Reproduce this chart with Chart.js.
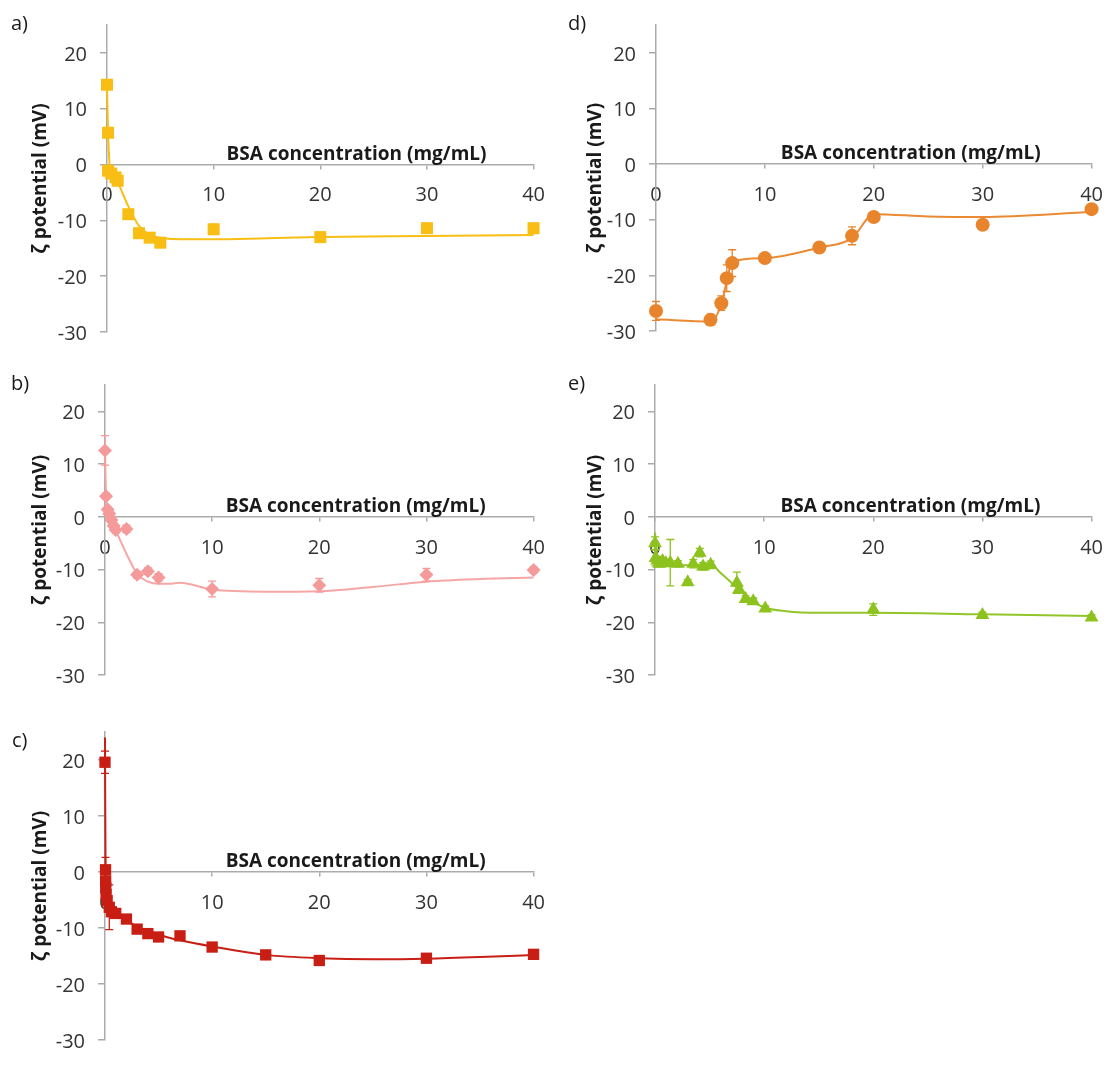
<!DOCTYPE html>
<html><head><meta charset="utf-8">
<script src="https://cdn.jsdelivr.net/npm/chart.js@4.4.0/dist/chart.umd.min.js"></script>
<style>
html,body{margin:0;padding:0;background:#fff;}
#wrap{position:relative;width:1118px;height:1065px;overflow:hidden;background:#fff;}
canvas{position:absolute;}
</style></head><body><div id="wrap">
<canvas id="ca" width="560" height="360" style="left:0;top:0"></canvas>
<canvas id="cd" width="558" height="360" style="left:560px;top:0"></canvas>
<canvas id="cb" width="560" height="340" style="left:0;top:360px"></canvas>
<canvas id="ce" width="558" height="340" style="left:560px;top:360px"></canvas>
<canvas id="cc" width="560" height="365" style="left:0;top:700px"></canvas>
</div>
<script>
// ---------- DATA ----------
const xTicks = [0, 10, 20, 30, 40];
const yTicks = [-30, -20, -10, 0, 10, 20];

// a) gold squares
const aConc = [0, 0.1, 0.1, 0.4, 0.8, 1.0, 2, 3, 4, 5, 10, 20, 30, 40];
const aZeta = [14.3, 5.7, -1.1, -1.6, -2.3, -2.9, -8.9, -12.3, -13.1, -14.0, -11.6, -13.0, -11.4, -11.4];
const aErr  = [0.5, 0.5, 0.4, 0.4, 0.5, 0.6, 0.8, 0.5, 0.5, 0.5, 0.9, 0.6, 0.8, 0.8];
const aFitConc = [0, 0.1, 0.3, 0.6, 1, 2, 3, 4, 5, 7, 10, 15, 20, 30, 40];
const aFitZeta = [14.3, 5.7, -0.8, -2.0, -3.2, -7.5, -11.0, -12.6, -13.1, -13.4, -13.4, -13.2, -13.0, -12.8, -12.6];

// b) pink diamonds
const bConc = [0, 0.1, 0.25, 0.4, 0.6, 0.8, 1.0, 2, 3, 4, 5, 10, 20, 30, 40];
const bZeta = [12.6, 3.9, 1.4, 0.6, -0.6, -1.7, -2.5, -2.3, -11.0, -10.3, -11.5, -13.7, -13.0, -11.0, -10.1];
const bErr  = [2.8, 0.6, 0.5, 0.5, 0.5, 0.6, 0.6, 0.7, 0.6, 0.6, 0.7, 1.5, 1.3, 1.2, 0.6];
const bFitConc = [0, 0.1, 0.3, 0.6, 1, 2, 3, 4, 5, 6, 7, 8, 10, 15, 20, 25, 30, 35, 40];
const bFitZeta = [12.6, 4.0, 0.8, -1.0, -2.6, -7.0, -10.8, -12.3, -12.7, -12.7, -12.5, -12.8, -13.8, -14.2, -14.1, -13.3, -12.3, -11.8, -11.5];

// c) red squares
const cConc = [0, 0.05, 0.06, 0.07, 0.1, 0.2, 0.4, 0.6, 1, 2, 3, 4, 5, 7, 10, 15, 20, 30, 40];
const cZeta = [19.6, 0.4, -1.6, -2.8, -4.0, -5.1, -6.3, -7.1, -7.4, -8.4, -10.2, -11.0, -11.6, -11.4, -13.4, -14.8, -15.8, -15.4, -14.7];
const cErr  = [2.0, 2.2, 0.6, 0.6, 0.6, 0.6, 4.0, 0.6, 0.5, 0.5, 0.5, 0.5, 0.5, 0.6, 0.6, 0.5, 0.5, 0.5, 0.5];
const cFitConc = [0, 0.05, 0.15, 0.3, 0.6, 1, 2, 3, 5, 7, 10, 15, 20, 25, 30, 35, 40];
const cFitZeta = [24.0, 0.5, -4.0, -5.8, -6.8, -7.4, -8.5, -9.8, -11.2, -12.2, -13.3, -14.8, -15.4, -15.6, -15.5, -15.2, -14.8];

// d) orange circles
const dConc = [0, 5, 6, 6.5, 7, 10, 15, 18, 20, 30, 40];
const dZeta = [-26.4, -28.0, -25.0, -20.5, -17.8, -16.9, -15.0, -12.9, -9.5, -10.9, -8.1];
const dErr  = [1.7, 1.0, 1.3, 2.4, 2.4, 0.4, 0.5, 1.6, 0.4, 0.4, 0.8];
const dFitConc = [0, 5, 6, 6.5, 7, 10, 15, 18, 20, 25, 30, 40];
const dFitZeta = [-27.9, -28.3, -25.2, -21.0, -17.5, -16.9, -15.0, -13.3, -9.0, -9.4, -9.5, -8.6];

// e) green triangles
const eConc = [0, 0.05, 0.2, 0.4, 0.7, 1.0, 1.4, 2.1, 3.0, 3.5, 4.1, 4.4, 5.1, 7.5, 7.7, 8.3, 9.0, 10.1, 20, 30, 40];
const eZeta = [-5.0, -7.8, -8.3, -8.9, -8.4, -8.8, -8.7, -8.9, -12.4, -8.9, -6.8, -9.4, -9.1, -12.5, -13.8, -15.6, -16.0, -17.4, -17.6, -18.6, -19.1];
const eErr  = [1.2, 1.5, 0.8, 0.6, 0.6, 0.6, 4.4, 0.6, 0.5, 0.8, 0.8, 0.7, 0.7, 2.0, 0.6, 0.6, 0.6, 0.5, 1.1, 0.5, 0.5];
const eFitConc = [0, 0.2, 0.5, 1, 2, 3, 4, 5, 6, 7, 8, 9, 10, 12, 15, 20, 30, 40];
const eFitZeta = [-3.0, -7.5, -8.6, -9.0, -9.2, -9.2, -9.1, -9.0, -10.6, -12.5, -14.4, -16.1, -17.2, -17.9, -18.2, -18.2, -18.5, -18.8];

const xTitle = 'BSA concentration (mg/mL)';
const yTitle = 'ζ potential (mV)';

// ---------- RENDERING ----------
const FONT = "'Open Sans', 'DejaVu Sans', sans-serif";
const AXIS = '#ababab';
const TICKTXT = '#333333';

function zip(xs, ys) { return xs.map((x, i) => ({ x: x, y: ys[i] })); }

const panelPlugin = {
  id: 'panelExtras',
  afterDatasetsDraw(chart, args, opts) {
    const ctx = chart.ctx;
    const xs = chart.scales.x, ys = chart.scales.y;
    const ds = chart.data.datasets[0];
    const errs = opts.errors || [];
    ctx.save();
    ctx.strokeStyle = ds.borderColor;
    ctx.lineWidth = 1.3;
    ds.data.forEach((p, i) => {
      const e = errs[i];
      if (!e) return;
      const px = xs.getPixelForValue(p.x);
      const y1 = ys.getPixelForValue(p.y + e);
      const y2 = ys.getPixelForValue(p.y - e);
      ctx.beginPath();
      ctx.moveTo(px, y1); ctx.lineTo(px, y2);
      ctx.moveTo(px - 4, y1); ctx.lineTo(px + 4, y1);
      ctx.moveTo(px - 4, y2); ctx.lineTo(px + 4, y2);
      ctx.stroke();
    });
    ctx.restore();
  },
  afterDraw(chart, args, opts) {
    const ctx = chart.ctx;
    const xs = chart.scales.x, ys = chart.scales.y;
    ctx.save();
    ctx.fillStyle = '#1a1a1a';
    ctx.font = "bold 19px " + FONT;
    ctx.textAlign = 'center';
    ctx.textBaseline = 'alphabetic';
    ctx.fillText(xTitle, xs.getPixelForValue(opts.titleAt), ys.getPixelForValue(0) - 5);
    ctx.font = "20px " + FONT;
    ctx.textAlign = 'left';
    ctx.fillText(opts.label, opts.labelX, opts.labelY);
    ctx.restore();
  }
};

function makePanel(id, P) {
  const cv = document.getElementById(id);
  new Chart(cv, {
    type: 'scatter',
    data: {
      datasets: [
        {
          data: zip(P.conc, P.zeta),
          showLine: false,
          pointStyle: P.shape,
          pointRadius: P.radius,
          pointBackgroundColor: P.color,
          pointBorderColor: P.color,
          borderColor: P.color,
          pointBorderWidth: 0,
          clip: false
        },
        {
          data: zip(P.fitConc, P.fitZeta),
          showLine: true,
          pointRadius: 0,
          borderColor: P.lineColor,
          borderWidth: 2,
          cubicInterpolationMode: 'monotone',
          clip: false
        }
      ]
    },
    options: {
      responsive: false,
      animation: false,
      events: [],
      layout: { padding: { left: 0, right: cv.width - P.plotRight, top: P.plotTop, bottom: cv.height - P.plotBottom } },
      plugins: {
        legend: { display: false },
        tooltip: { enabled: false },
        panelExtras: { errors: P.err, label: P.label, labelX: P.labelX, labelY: P.labelY, titleAt: 23.4 }
      },
      scales: {
        x: {
          type: 'linear', min: 0, max: 40,
          position: { y: 0 },
          afterBuildTicks: s => { s.ticks = xTicks.map(v => ({ value: v })); },
          ticks: { color: TICKTXT, font: { family: FONT, size: 20 }, padding: 15, maxRotation: 0 },
          grid: { drawOnChartArea: false, drawTicks: true, tickLength: 4, color: AXIS, lineWidth: 1.5 },
          border: { display: true, color: AXIS, width: 1.5 }
        },
        y: {
          type: 'linear', min: -30, max: 25,
          afterBuildTicks: s => { s.ticks = yTicks.map(v => ({ value: v })); },
          afterFit: s => { s.width = P.plotLeft; },
          ticks: { color: TICKTXT, font: { family: FONT, size: 20 }, padding: 13, labelOffset: 2 },
          grid: { drawOnChartArea: false, drawTicks: true, tickLength: 7, color: AXIS, lineWidth: 1.5 },
          border: { display: true, color: AXIS, width: 1.5 },
          title: { display: true, text: yTitle, color: '#1a1a1a', font: { family: FONT, size: 19, weight: 'bold' }, padding: { top: P.yTitleX - 11.4, bottom: 0 } }
        }
      }
    },
    plugins: [panelPlugin]
  });
}

makePanel('ca', { conc: aConc, zeta: aZeta, err: aErr, fitConc: aFitConc, fitZeta: aFitZeta,
  color: '#F8BE14', lineColor: '#F8BE14', shape: 'rect', radius: 8.5,
  plotLeft: 107, plotRight: 552, plotTop: 15, plotBottom: 332, yTitleX: 41, label: 'a)', labelX: 11, labelY: 30 });
makePanel('cd', { conc: dConc, zeta: dZeta, err: dErr, fitConc: dFitConc, fitZeta: dFitZeta,
  color: '#E8852C', lineColor: '#EA8A34', shape: 'circle', radius: 7,
  plotLeft: 96, plotRight: 547, plotTop: 12, plotBottom: 331, yTitleX: 36, label: 'd)', labelX: 8, labelY: 30 });
makePanel('cb', { conc: bConc, zeta: bZeta, err: bErr, fitConc: bFitConc, fitZeta: bFitZeta,
  color: '#F59A9A', lineColor: '#F7A6A6', shape: 'rectRot', radius: 7,
  plotLeft: 105, plotRight: 554, plotTop: 10, plotBottom: 329, yTitleX: 41, label: 'b)', labelX: 11, labelY: 30 });
makePanel('ce', { conc: eConc, zeta: eZeta, err: eErr, fitConc: eFitConc, fitZeta: eFitZeta,
  color: '#8DC21F', lineColor: '#92C52A', shape: 'triangle', radius: 8,
  plotLeft: 95, plotRight: 548, plotTop: 10, plotBottom: 329, yTitleX: 36, label: 'e)', labelX: 8, labelY: 30 });
makePanel('cc', { conc: cConc, zeta: cZeta, err: cErr, fitConc: cFitConc, fitZeta: cFitZeta,
  color: '#C81E14', lineColor: '#C81E14', shape: 'rect', radius: 8,
  plotLeft: 105, plotRight: 554, plotTop: 32, plotBottom: 351, yTitleX: 41, label: 'c)', labelX: 12, labelY: 47 });
</script>
</body></html>
